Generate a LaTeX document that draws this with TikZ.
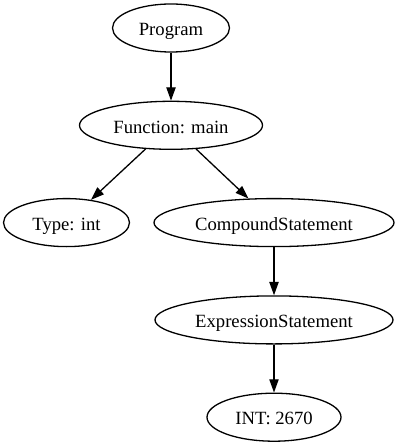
\documentclass[tikz,border=0pt]{standalone}
\usepackage{fontspec}
\setmainfont{Liberation Serif}
\usetikzlibrary{positioning,arrows.meta,shapes.geometric}

\begin{document}
\begin{tikzpicture}[
      astnode/.style={draw, ellipse, line width=1.3pt, minimum height=48pt,
                      inner sep=0pt, text height=17pt, text depth=1.5pt,
                      font=\fontsize{18.67}{22}\selectfont},
      ar/.style={-{Triangle[length=13.3pt,width=9.3pt]}, line width=1.3pt},
      node distance=48pt,
    ]
      \useasboundingbox (0,0) rectangle (400pt,-443pt);
      \node[astnode, minimum width=117pt] (prog) at (171pt,-28pt) {Program};
      \node[astnode, below=of prog, minimum width=183pt] (fn) {Function: main};
      \node[astnode, below=of fn, xshift=-104.5pt, minimum width=126pt] (ty) {Type: int};
      \node[astnode, below=of fn, xshift=103pt, minimum width=240pt] (cmp) {CompoundStatement};
      \node[astnode, below=of cmp, minimum width=238pt] (expr) {ExpressionStatement};
      \node[astnode, below=of expr, minimum width=134pt] (lit) {INT: 2670};
      \draw[ar] (prog)--(fn); \draw[ar] (fn)--(ty); \draw[ar] (fn)--(cmp);
      \draw[ar] (cmp)--(expr); \draw[ar] (expr)--(lit);
    \end{tikzpicture}
\end{document}
